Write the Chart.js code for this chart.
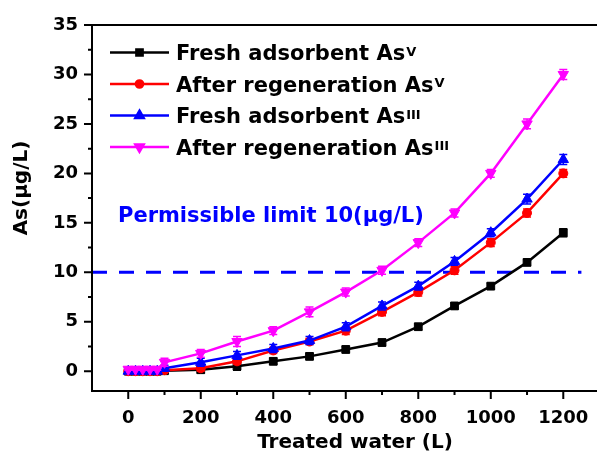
<!DOCTYPE html>
<html><head><meta charset="utf-8">
<script src="https://cdn.jsdelivr.net/npm/chart.js@4/dist/chart.umd.min.js"></script>
<style>html,body{margin:0;padding:0;background:#fff;overflow:hidden;width:597px;height:452px}canvas{display:block}</style>
</head><body>
<canvas id="c" width="597" height="452" style="width:597px;height:452px"></canvas>
<script>
// ---- data ----
const treatedWater = [0,20,40,60,80,100,200,300,400,500,600,700,800,900,1000,1100,1200];
const freshAsV     = [0,0,0,0,0,0.05,0.15,0.5,1.0,1.5,2.2,2.9,4.5,6.6,8.6,11.0,14.0];
const regenAsV     = [0,0,0,0,0,0.1,0.3,1.0,2.1,3.0,4.1,6.0,8.0,10.2,13.0,16.0,20.0];
const freshAsIII   = [0,0,0,0,0,0.3,0.9,1.6,2.3,3.1,4.5,6.6,8.6,11.1,14.0,17.4,21.4];
const regenAsIII   = [0.2,0.2,0.2,0.2,0.2,0.9,1.8,3.0,4.1,6.0,8.0,10.2,13.0,16.0,20.0,25.0,30.0];
const errFreshAsV   = [0.1,0.1,0.1,0.1,0.1,0.2,0.3,0.4,0.3,0.3,0.3,0.3,0.3,0.3,0.3,0.3,0.4];
const errRegenAsV   = [0.1,0.1,0.1,0.1,0.1,0.2,0.3,0.3,0.3,0.3,0.4,0.4,0.4,0.4,0.4,0.4,0.4];
const errFreshAsIII = [0.1,0.1,0.1,0.1,0.1,0.3,0.4,0.4,0.4,0.4,0.4,0.4,0.4,0.4,0.4,0.5,0.5];
const errRegenAsIII = [0.1,0.1,0.1,0.1,0.1,0.4,0.4,0.5,0.4,0.5,0.4,0.4,0.4,0.4,0.4,0.5,0.5];
const seriesNames = ['Fresh adsorbent As','After regeneration As','Fresh adsorbent As','After regeneration As'];
const seriesSup   = ['V','V','III','III'];
const permissibleLimit = 10;
const limitLabel = 'Permissible limit 10(\u00b5g/L)';
const xTickValues = [0,200,400,600,800,1000,1200];
const yTickValues = [0,5,10,15,20,25,30,35];
const xTitle = 'Treated water (L)';
const yTitle = 'As(\u00b5g/L)';

const FONT = "'DejaVu Sans', sans-serif";
const colors = ['#000000','#ff0000','#0000ff','#ff00ff'];
const styles = [
  {pointStyle:'rect', radius:5.5, rotation:0},
  {pointStyle:'circle', radius:4.5, rotation:0},
  {pointStyle:'triangle', radius:6, rotation:0},
  {pointStyle:'triangle', radius:6, rotation:180}
];
const seriesVals = [freshAsV, regenAsV, freshAsIII, regenAsIII];
const seriesErr = [errFreshAsV, errRegenAsV, errFreshAsIII, errRegenAsIII];

const datasets = seriesVals.map((vals,i)=>({
  label: seriesNames[i] + seriesSup[i],
  data: treatedWater.map((x,j)=>({x:x, y:vals[j]})),
  errors: seriesErr[i],
  borderColor: colors[i], backgroundColor: colors[i],
  pointBackgroundColor: colors[i], pointBorderColor: colors[i],
  borderWidth: 2.5, tension: 0,
  pointStyle: styles[i].pointStyle, pointRadius: styles[i].radius, pointRotation: styles[i].rotation,
  pointBorderWidth: 1,
  order: 4 - i
}));
datasets.push({
  label: 'limit',
  data: [{x:-100, y:permissibleLimit},{x:1250, y:permissibleLimit}],
  borderColor:'#0000ff', borderWidth:3, borderDash:[15,12], pointRadius:0, order: 10
});

const deco = {
  id:'deco',
  afterDatasetDraw(chart, args){
    const ds = chart.data.datasets[args.index];
    if(!ds.errors) return;
    const ctx = chart.ctx, xs = chart.scales.x, ys = chart.scales.y;
    ctx.save();
    ctx.strokeStyle = ds.borderColor; ctx.lineWidth = 1.5;
    ds.data.forEach((p,i)=>{
      const e = ds.errors[i]; if(!e) return;
      const px = xs.getPixelForValue(p.x);
      const y1 = ys.getPixelForValue(p.y+e), y2 = ys.getPixelForValue(p.y-e);
      ctx.beginPath();
      ctx.moveTo(px,y1); ctx.lineTo(px,y2);
      ctx.moveTo(px-4,y1); ctx.lineTo(px+4,y1);
      ctx.moveTo(px-4,y2); ctx.lineTo(px+4,y2);
      ctx.stroke();
    });
    ctx.restore();
  },
  afterDraw(chart){
    const ctx = chart.ctx, a = chart.chartArea, xs = chart.scales.x, ys = chart.scales.y;
    ctx.save();
    // frame: left, bottom, top (right side lies beyond the picture)
    ctx.strokeStyle='#000'; ctx.lineWidth=2;
    ctx.beginPath();
    ctx.moveTo(chart.width, a.top); ctx.lineTo(a.left, a.top);
    ctx.lineTo(a.left, a.bottom); ctx.lineTo(chart.width, a.bottom);
    ctx.stroke();
    // ticks (major at labelled values, minor halfway)
    ctx.beginPath();
    for(let v=0; v<=1200; v+=100){
      const px = xs.getPixelForValue(v);
      const len = (v%200===0) ? 8 : 4;
      ctx.moveTo(px, a.bottom); ctx.lineTo(px, a.bottom+len);
    }
    for(let v=0; v<=35; v+=2.5){
      const py = ys.getPixelForValue(v);
      const len = (v%5===0) ? 8 : 4;
      ctx.moveTo(a.left, py); ctx.lineTo(a.left-len, py);
    }
    ctx.stroke();
    // axis titles
    ctx.fillStyle='#000';
    ctx.font = 'bold 20px ' + FONT;
    ctx.textAlign='center'; ctx.textBaseline='alphabetic';
    ctx.fillText(xTitle, 355, 448);
    ctx.save();
    ctx.translate(27, 188); ctx.rotate(-Math.PI/2);
    ctx.fillText(yTitle, 0, 0);
    ctx.restore();
    // limit label
    ctx.fillStyle='#0000ff'; ctx.textAlign='left';
    ctx.font = 'bold 21px ' + FONT;
    ctx.fillText(limitLabel, 118, 222);
    // legend
    const rows = [52.5, 84, 115.5, 147];
    rows.forEach((ry,i)=>{
      ctx.strokeStyle = colors[i]; ctx.lineWidth = 2.5;
      ctx.beginPath(); ctx.moveTo(110, ry); ctx.lineTo(169, ry); ctx.stroke();
      ctx.fillStyle = colors[i];
      Chart.helpers.drawPoint(ctx, {pointStyle: styles[i].pointStyle, radius: styles[i].radius*0.8, rotation: styles[i].rotation, borderWidth:1}, 139.5, ry);
      ctx.fill();
      ctx.fillStyle='#000'; ctx.textAlign='left';
      ctx.font = 'bold 21px ' + FONT;
      ctx.fillText(seriesNames[i], 176, ry+7.5);
      const w = ctx.measureText(seriesNames[i]).width;
      ctx.font = 'bold 13px ' + FONT;
      ctx.fillText(seriesSup[i], 176 + w + 1, ry + 3);
    });
    ctx.restore();
  }
};

new Chart(document.getElementById('c'), {
  type:'line',
  data:{datasets},
  options:{
    responsive:false, animation:false,
    layout:{autoPadding:false, padding:{left:0, top:25, right:0, bottom:0}},
    plugins:{legend:{display:false}, tooltip:{enabled:false}},
    scales:{
      x:{type:'linear', min:-100, max:1293,
         grid:{display:false, drawTicks:false}, border:{display:false},
         afterBuildTicks:(s)=>{ s.ticks = xTickValues.map(v=>({value:v})); },
         ticks:{autoSkip:false, maxRotation:0, minRotation:0, padding:17, color:'#000',
                font:{family:FONT, size:18, weight:'bold'},
                callback:(v)=> String(v)},
         afterFit:(s)=>{s.height = 61; s.paddingLeft = 0; s.paddingRight = 0;}},
      y:{type:'linear', min:-2, max:35,
         grid:{display:false, drawTicks:false}, border:{display:false},
         afterBuildTicks:(s)=>{ s.ticks = yTickValues.map(v=>({value:v})); },
         ticks:{autoSkip:false, padding:14, color:'#000',
                font:{family:FONT, size:18, weight:'bold'},
                callback:(v)=> String(v)},
         afterFit:(s)=>{s.width = 92; s.paddingTop = 0; s.paddingBottom = 0;}}
    }
  },
  plugins:[deco]
});
</script>
</body></html>
